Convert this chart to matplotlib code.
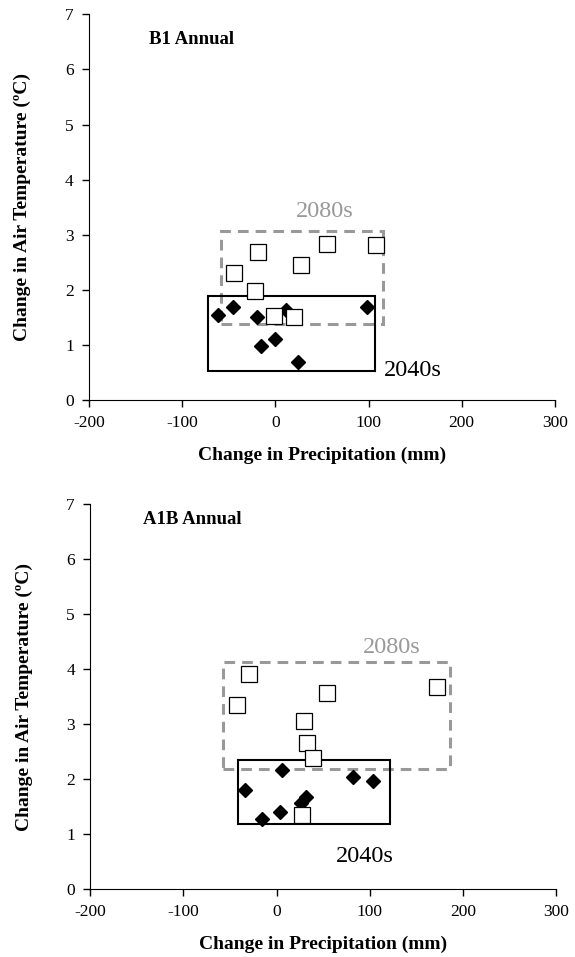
import matplotlib
matplotlib.use("Agg")
import matplotlib.pyplot as plt
from matplotlib.patches import Rectangle

plt.rcParams['font.family'] = ['Liberation Serif', 'DejaVu Serif']
plt.rcParams['axes.unicode_minus'] = False

# B1 annual: change in precipitation (mm) and air temperature (C)
b1_2040_precip = [-62, -46, -20, -16, 0, 11, 24, 98]
b1_2040_temp = [1.55, 1.68, 1.50, 0.98, 1.10, 1.63, 0.69, 1.68]
b1_2080_precip = [-19, 55, 108, -44, 27, -22, -1, 20]
b1_2080_temp = [2.69, 2.84, 2.81, 2.31, 2.45, 1.98, 1.52, 1.51]
b1_box_2040 = [-72, 107, 0.53, 1.89]
b1_box_2080 = [-58, 116, 1.38, 3.07]

# A1B annual
a1b_2040_precip = [6, 82, 103, -34, 32, 26, 4, -16]
a1b_2040_temp = [2.16, 2.03, 1.96, 1.80, 1.68, 1.57, 1.40, 1.27]
a1b_2080_precip = [-30, -43, 54, 172, 29, 33, 39, 27]
a1b_2080_temp = [3.92, 3.35, 3.56, 3.67, 3.06, 2.65, 2.38, 1.34]
a1b_box_2040 = [-41, 122, 1.19, 2.34]
a1b_box_2080 = [-57, 186, 2.19, 4.13]

panels = [
    ("B1 Annual", b1_2040_precip, b1_2040_temp, b1_2080_precip, b1_2080_temp,
     b1_box_2040, b1_box_2080, (-90, 6.55), (53, 3.43), (148, 0.53)),
    ("A1B Annual", a1b_2040_precip, a1b_2040_temp, a1b_2080_precip, a1b_2080_temp,
     a1b_box_2040, a1b_box_2080, (-90, 6.72), (124, 4.4), (95, 0.6)),
]

fig = plt.figure(figsize=(5.75, 9.57), dpi=100)
ax_top = fig.add_axes([0.155, 0.582, 0.810, 0.403])
ax_bot = fig.add_axes([0.157, 0.071, 0.810, 0.402])

gray = '#999999'
for ax, p in zip([ax_top, ax_bot], panels):
    title, px40, t40, px80, t80, box40, box80, title_pos, lab80, lab40 = p

    ax.add_patch(Rectangle((box80[0], box80[2]), box80[1] - box80[0], box80[3] - box80[2],
                           fill=False, edgecolor=gray, lw=2.2, linestyle=(0, (3.5, 2.3)),
                           zorder=2))
    ax.add_patch(Rectangle((box40[0], box40[2]), box40[1] - box40[0], box40[3] - box40[2],
                           fill=False, edgecolor='black', lw=1.5, zorder=2))

    ax.plot(px40, t40, 'D', color='black', ms=7.5, ls='none', zorder=3)
    ax.plot(px80, t80, 's', mfc='white', mec='black', mew=0.9, ms=11, ls='none', zorder=4)

    ax.text(title_pos[0], title_pos[1], title, fontsize=13.5, fontweight='bold',
            ha='center', va='center')
    ax.text(lab80[0], lab80[1], '2080s', fontsize=17.5, color=gray, ha='center', va='center')
    ax.text(lab40[0], lab40[1], '2040s', fontsize=17.5, color='black', ha='center', va='center')

    ax.set_xlim(-200, 300)
    ax.set_ylim(0, 7)
    ax.set_xticks([-200, -100, 0, 100, 200, 300])
    ax.set_yticks(range(0, 8))
    ax.spines['top'].set_visible(False)
    ax.spines['right'].set_visible(False)
    ax.tick_params(direction='out', length=5, width=1, labelsize=12.5, pad=6)
    ax.set_xlabel('Change in Precipitation (mm)', fontsize=14, fontweight='bold', labelpad=11)
    ax.set_ylabel('Change in Air Temperature (ºC)', fontsize=14, fontweight='bold')
    ax.yaxis.set_label_coords(-0.124, 0.5)

fig.savefig('out.png', dpi=100)
